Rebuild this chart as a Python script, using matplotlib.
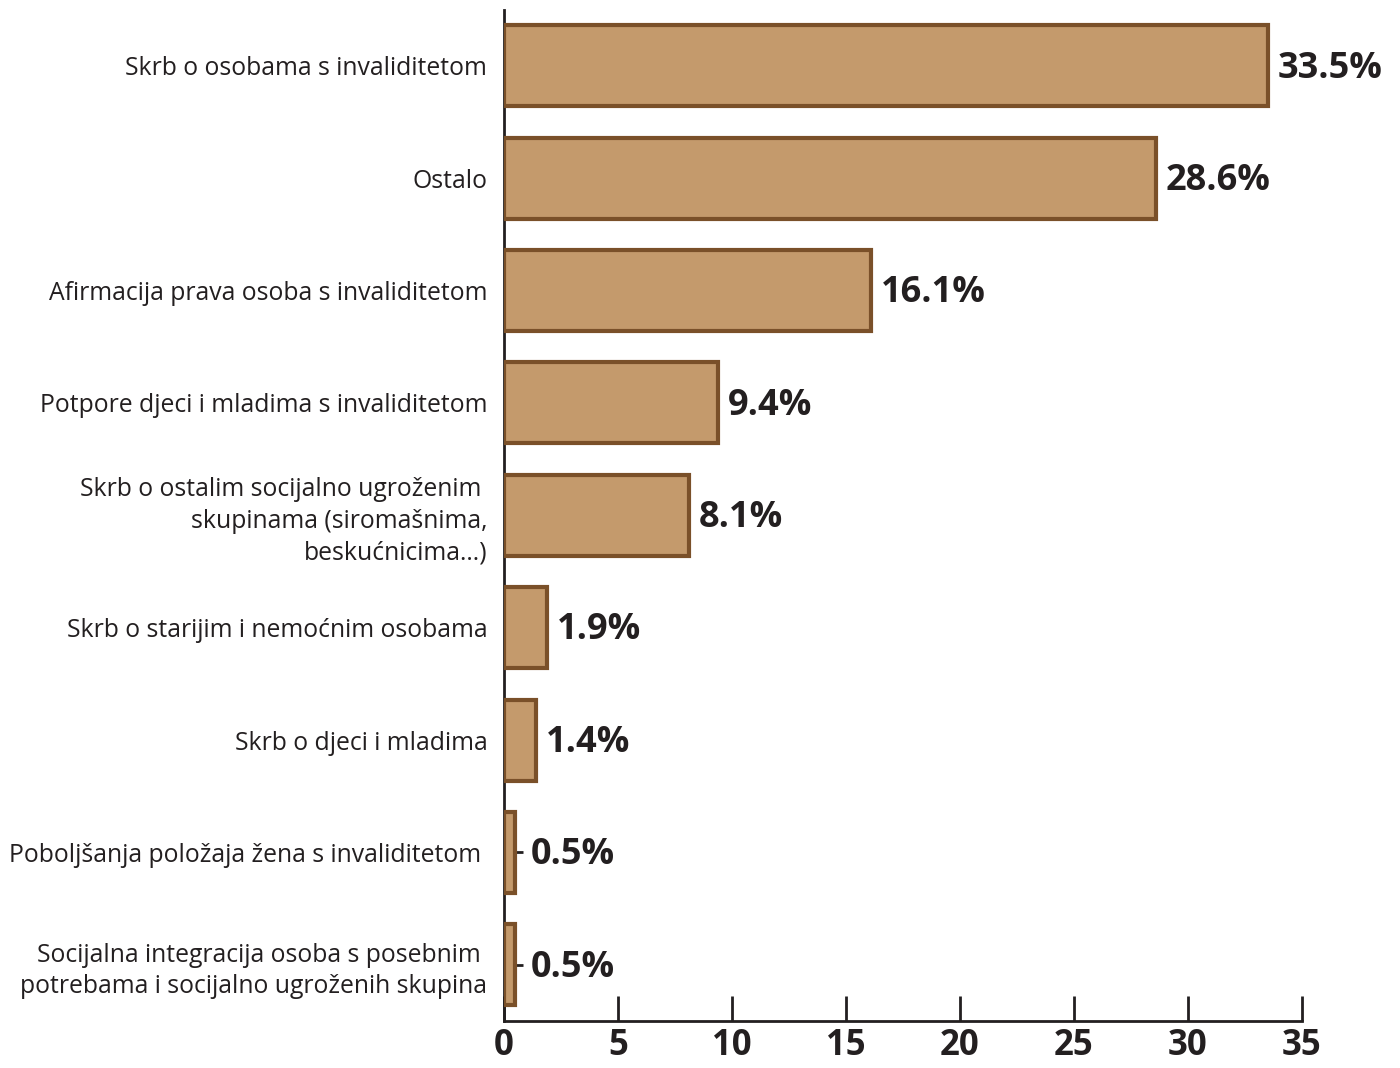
import matplotlib
matplotlib.use('Agg')
import matplotlib.pyplot as plt

plt.rcParams['font.family'] = ['Open Sans', 'DejaVu Sans']

categories = [
    'Skrb o osobama s invaliditetom',
    'Ostalo',
    'Afirmacija prava osoba s invaliditetom',
    'Potpore djeci i mladima s invaliditetom',
    'Skrb o ostalim socijalno ugroženim \nskupinama (siromašnima,\nbeskućnicima…)',
    'Skrb o starijim i nemoćnim osobama',
    'Skrb o djeci i mladima',
    'Poboljšanja položaja žena s invaliditetom ',
    'Socijalna integracija osoba s posebnim \npotrebama i socijalno ugroženih skupina',
]
values = [33.5, 28.6, 16.1, 9.4, 8.1, 1.9, 1.4, 0.5, 0.5]
xticks = [0, 5, 10, 15, 20, 25, 30, 35]

fill = '#c49a6c'
edge = '#7a5029'
dark = '#231f20'

fig = plt.figure(figsize=(14, 10.68), dpi=100)
ax = fig.add_axes([0.36, 0.044, 0.57, 0.947])

y = list(range(len(categories)))
ax.barh(y, values, height=0.72, color=fill, edgecolor=edge, linewidth=3, zorder=3)

for yi, v in zip(y, values):
    off = 11 if v < 1 else 7
    ax.annotate(f'{v}%', xy=(v, yi), xytext=(off, -2), textcoords='offset points',
                ha='left', va='center', fontsize=26, fontweight='bold', color=dark)

ax.set_xlim(0, 35)
ax.set_ylim(8.5, -0.5)
ax.set_xticks(xticks)
ax.set_xticklabels([str(t) for t in xticks], fontsize=25, fontweight='bold', color=dark)
ax.set_yticks(y)
ax.set_yticklabels(categories, fontsize=17.8, color=dark, ha='right',
                   multialignment='right', linespacing=1.35)

ax.tick_params(axis='x', direction='in', length=18, width=2, color=dark, pad=5)
ax.tick_params(axis='y', direction='in', length=14, width=2, color=dark, pad=12)

for s in ['top', 'right']:
    ax.spines[s].set_visible(False)
for s in ['left', 'bottom']:
    ax.spines[s].set_linewidth(2)
    ax.spines[s].set_color(dark)

fig.savefig('out.png', dpi=100)
